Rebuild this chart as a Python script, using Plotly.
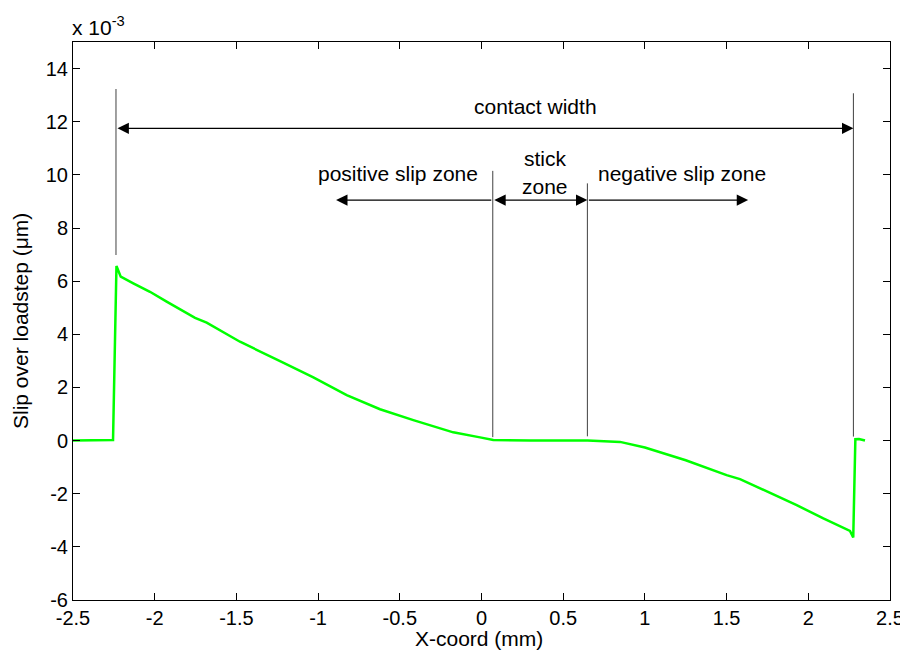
import plotly.graph_objects as go

# ---- data (slip in units of 1e-3 um) ----
x_mm = [-2.5, -2.4, -2.3, -2.255, -2.234, -2.208, -2.131, -2.029, -1.927, -1.753,
        -1.682, -1.478, -1.233, -1.029, -0.825, -0.621, -0.417, -0.173, -0.009, 0.072,
        0.3, 0.5, 0.65, 0.848, 1.0, 1.25, 1.5, 1.582, 1.786, 1.929, 2.092, 2.194,
        2.255, 2.275, 2.288, 2.31, 2.347]
slip_e3 = [0, 0, 0, 0.02, 6.57, 6.17, 5.92, 5.6, 5.23, 4.62,
           4.44, 3.72, 2.99, 2.38, 1.71, 1.18, 0.77, 0.31, 0.12, 0.02,
           0, 0, 0, -0.05, -0.26, -0.74, -1.3, -1.45, -2.01, -2.43, -2.93, -3.24,
           -3.40, -3.65, 0.05, 0.06, 0.0]

contact_edges = [-2.237, 2.276]
stick_edges = [0.069, 0.648]
x_ticks = [-2.5, -2, -1.5, -1, -0.5, 0, 0.5, 1, 1.5, 2, 2.5]
x_ticklabels = ["-2.5", "-2", "-1.5", "-1", "-0.5", "0", "0.5", "1", "1.5", "2", "2.5"]
y_ticks = [-6, -4, -2, 0, 2, 4, 6, 8, 10, 12, 14]
y_ticklabels = ["-6", "-4", "-2", "0", "2", "4", "6", "8", "10", "12", "14"]

FONT = "Liberation Sans, Arial, Helvetica, sans-serif"
TICK_SIZE = 20
TEXT_SIZE = 21

fig = go.Figure()
fig.add_trace(go.Scatter(x=x_mm, y=slip_e3, mode="lines",
                         line=dict(color="#00ff00", width=2.5), showlegend=False,
                         hoverinfo="skip"))

# vertical guide lines
fig.add_shape(type="line", xref="x", yref="y", x0=contact_edges[0], x1=contact_edges[0],
              y0=6.98, y1=13.23, line=dict(color="#808080", width=1.5))
fig.add_shape(type="line", xref="x", yref="y", x0=contact_edges[1], x1=contact_edges[1],
              y0=0.15, y1=13.07, line=dict(color="#404040", width=1))
fig.add_shape(type="line", xref="x", yref="y", x0=stick_edges[0], x1=stick_edges[0],
              y0=0.13, y1=10.15, line=dict(color="#404040", width=1))
fig.add_shape(type="line", xref="x", yref="y", x0=stick_edges[1], x1=stick_edges[1],
              y0=0.16, y1=9.68, line=dict(color="#404040", width=1))

def arrow(x_head, x_tail, yv, both=False):
    fig.add_annotation(x=x_head, y=yv, ax=x_tail, ay=yv, xref="x", yref="y",
                       axref="x", ayref="y", text="", showarrow=True,
                       arrowhead=2, arrowsize=1.9, arrowwidth=1.2, arrowcolor="black",
                       arrowside="end+start" if both else "end",
                       startarrowhead=2, startarrowsize=1.9)

arrow(contact_edges[1], contact_edges[0], 11.75, both=True)
arrow(-0.89, stick_edges[0], 9.05)
arrow(stick_edges[1], stick_edges[0], 9.05, both=True)
arrow(1.632, stick_edges[1], 9.05)

def label(txt, x, y):
    fig.add_annotation(x=x, y=y, xref="x", yref="y", text=txt, showarrow=False,
                       font=dict(family=FONT, size=TEXT_SIZE, color="black"))

label("contact width", 0.33, 12.57)
label("positive slip zone", -0.511, 10.07)
label("stick", 0.389, 10.62)
label("zone", 0.389, 9.55)
label("negative slip zone", 1.225, 10.07)

# exponent label
fig.add_annotation(x=0, y=1, xref="paper", yref="paper", xanchor="left", yanchor="bottom",
                   text="x 10<sup>-3</sup>", showarrow=False, yshift=1, xshift=-3,
                   font=dict(family=FONT, size=TEXT_SIZE, color="black"))
# axis titles
fig.add_annotation(x=0.5, y=0, xref="paper", yref="paper", xanchor="center", yanchor="top",
                   text="X-coord (mm)", showarrow=False, yshift=-25, xshift=-3,
                   font=dict(family=FONT, size=TEXT_SIZE, color="black"))
fig.add_annotation(x=0, y=0.5, xref="paper", yref="paper", xanchor="center", yanchor="middle",
                   text="Slip over loadstep (\u03bcm)", showarrow=False, textangle=-90,
                   xshift=-53, font=dict(family=FONT, size=TEXT_SIZE, color="black"))

axis_common = dict(showgrid=False, zeroline=False, showline=True, linecolor="black",
                   linewidth=1, mirror="allticks", ticks="inside", ticklen=7,
                   tickwidth=1, tickcolor="black", automargin=False,
                   tickfont=dict(family=FONT, size=TICK_SIZE, color="black"))

fig.update_xaxes(range=[-2.5, 2.5], tickvals=x_ticks, ticktext=x_ticklabels, **axis_common)
fig.update_yaxes(range=[-6, 15], tickvals=y_ticks, ticktext=y_ticklabels, **axis_common)

# page has an 8px body margin, so the figure is 900x650 placed at (8, 8)
fig.update_layout(width=900, height=650, margin=dict(l=65, r=18, t=34, b=58, autoexpand=False),
                  plot_bgcolor="white", paper_bgcolor="white",
                  font=dict(family=FONT, size=TICK_SIZE, color="black"))

fig.write_html("out.html")
